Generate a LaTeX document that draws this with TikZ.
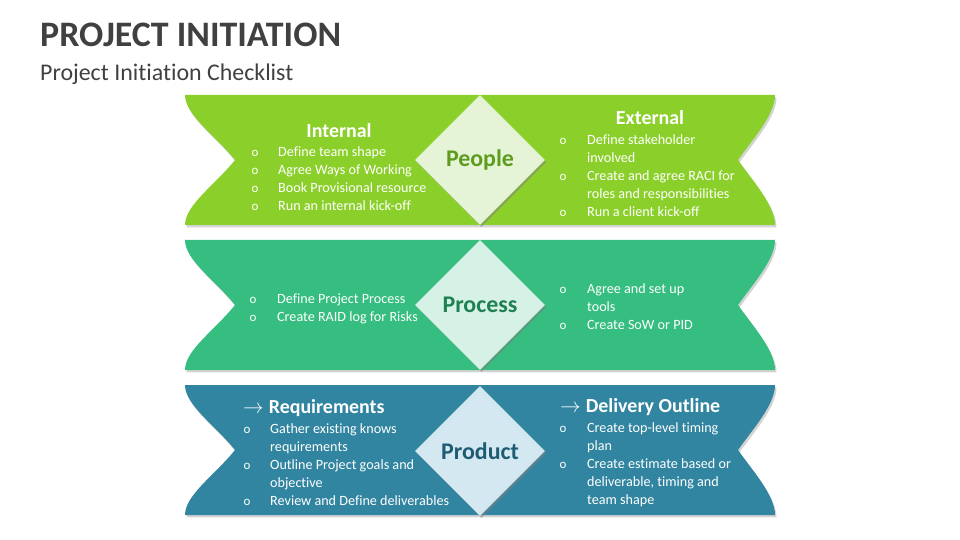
\documentclass[tikz,border=0pt]{standalone}
\usepackage{fontspec}
\setmainfont[Ligatures=CommonOff,Contextuals=AlternateOff]{Carlito}
\usetikzlibrary{shapes.geometric,shadows}

\definecolor{titlegray}{RGB}{64,64,64}
\definecolor{peopleband}{RGB}{139,208,42}
\definecolor{peoplegem}{RGB}{229,244,214}
\definecolor{peopletext}{RGB}{94,156,30}
\definecolor{processband}{RGB}{53,190,128}
\definecolor{processgem}{RGB}{214,242,230}
\definecolor{processtext}{RGB}{31,128,82}
\definecolor{productband}{RGB}{49,133,160}
\definecolor{productgem}{RGB}{211,232,241}
\definecolor{producttext}{RGB}{31,92,116}

\begin{document}
\begin{tikzpicture}[x=1bp,y=-1bp,
  band/.style={drop shadow={shadow xshift=1.5pt,shadow yshift=-2.5pt,opacity=.35}},
  gem/.style={diamond,minimum width=130bp,minimum height=130bp,inner sep=0pt,
    drop shadow={shadow xshift=1.5pt,shadow yshift=-2pt,opacity=.5},
    font=\fontsize{24}{28}\selectfont\bfseries},
  head/.style={text=white,font=\fontsize{20}{24}\selectfont\bfseries,inner sep=0pt},
  item/.style={text=white,font=\fontsize{14.2}{17}\selectfont,anchor=base west,inner sep=0pt},
  bul/.style={text=white,font=\fontsize{13}{15}\selectfont,anchor=base,inner sep=0pt}]

  \useasboundingbox (0,0) rectangle (960,540);

  % title
  \node[anchor=base west,inner sep=0pt,text=titlegray,font=\fontsize{36}{40}\selectfont\bfseries] (title) at (40,46.5) {PROJECT INITIATION};
  \node[anchor=base west,inner sep=0pt,text=titlegray,font=\fontsize{24}{28}\selectfont] (subtitle) at (40,81) {Project Initiation Checklist};

  % the three ribbons
  \foreach \top/\col in {95/peopleband,240/processband,385/productband}
    \fill[band,\col] (185,\top) -- (775,\top)
      .. controls (775,\top+20) and (752,\top+45) .. (738,\top+65)
      .. controls (752,\top+85) and (775,\top+110) .. (775,\top+130)
      -- (185,\top+130)
      .. controls (185,\top+110) and (215,\top+90) .. (235,\top+65)
      .. controls (215,\top+40) and (185,\top+20) .. (185,\top) -- cycle;

  % diamonds
  \node[gem,fill=peoplegem,text=peopletext] (people) at (480,160) {People};
  \node[gem,fill=processgem,text=processtext] (process) at (480,305) {Process};
  \node[gem,fill=productgem,text=producttext] (product) at (480,451) {Product};

  % people
  \node[head] (internal) at (339,130.5) {Internal};
  \foreach \t [count=\i] in {Define team shape,Agree Ways of Working,Book Provisional resource,Run an internal kick-off}{
    \node[bul] (internal-b\i) at (255,138.5+18*\i) {o};
    \node[item] (internal-\i) at (278,138.5+18*\i) {\t};
  }
  \node[head] (external) at (650,117.5) {External};
  \foreach \b/\t [count=\i] in {o/Define stakeholder,/involved,o/Create and agree RACI for,/roles and responsibilities,o/Run a client kick-off}{
    \node[bul] (external-b\i) at (563,126.5+18*\i) {\b};
    \node[item] (external-\i) at (587,126.5+18*\i) {\t};
  }

  % process
  \foreach \t [count=\i] in {Define Project Process,Create RAID log for Risks}{
    \node[bul] (plan-b\i) at (253,285.5+18*\i) {o};
    \node[item] (plan-\i) at (277,285.5+18*\i) {\t};
  }
  \foreach \b/\t [count=\i] in {o/Agree and set up,/tools,o/Create SoW or PID}{
    \node[bul] (tools-b\i) at (563,275.5+18*\i) {\b};
    \node[item] (tools-\i) at (587,275.5+18*\i) {\t};
  }

  % product
  \node[head,anchor=base west] (requirements) at (243,413.5) {$\rightarrow$\hspace{5bp}Requirements};
  \foreach \b/\t [count=\i] in {o/Gather existing knows,/requirements,o/Outline Project goals and,/objective,o/Review and Define deliverables}{
    \node[bul] (req-b\i) at (247,415.5+18*\i) {\b};
    \node[item] (req-\i) at (270,415.5+18*\i) {\t};
  }
  \node[head,anchor=base west] (delivery) at (560,412.5) {$\rightarrow$\hspace{5bp}Delivery Outline};
  \foreach \b/\t [count=\i] in {o/Create top-level timing,/plan,o/Create estimate based or,/{deliverable, timing and},/team shape}{
    \node[bul] (del-b\i) at (563,414.5+18*\i) {\b};
    \node[item] (del-\i) at (587,414.5+18*\i) {\t};
  }
\end{tikzpicture}
\end{document}
